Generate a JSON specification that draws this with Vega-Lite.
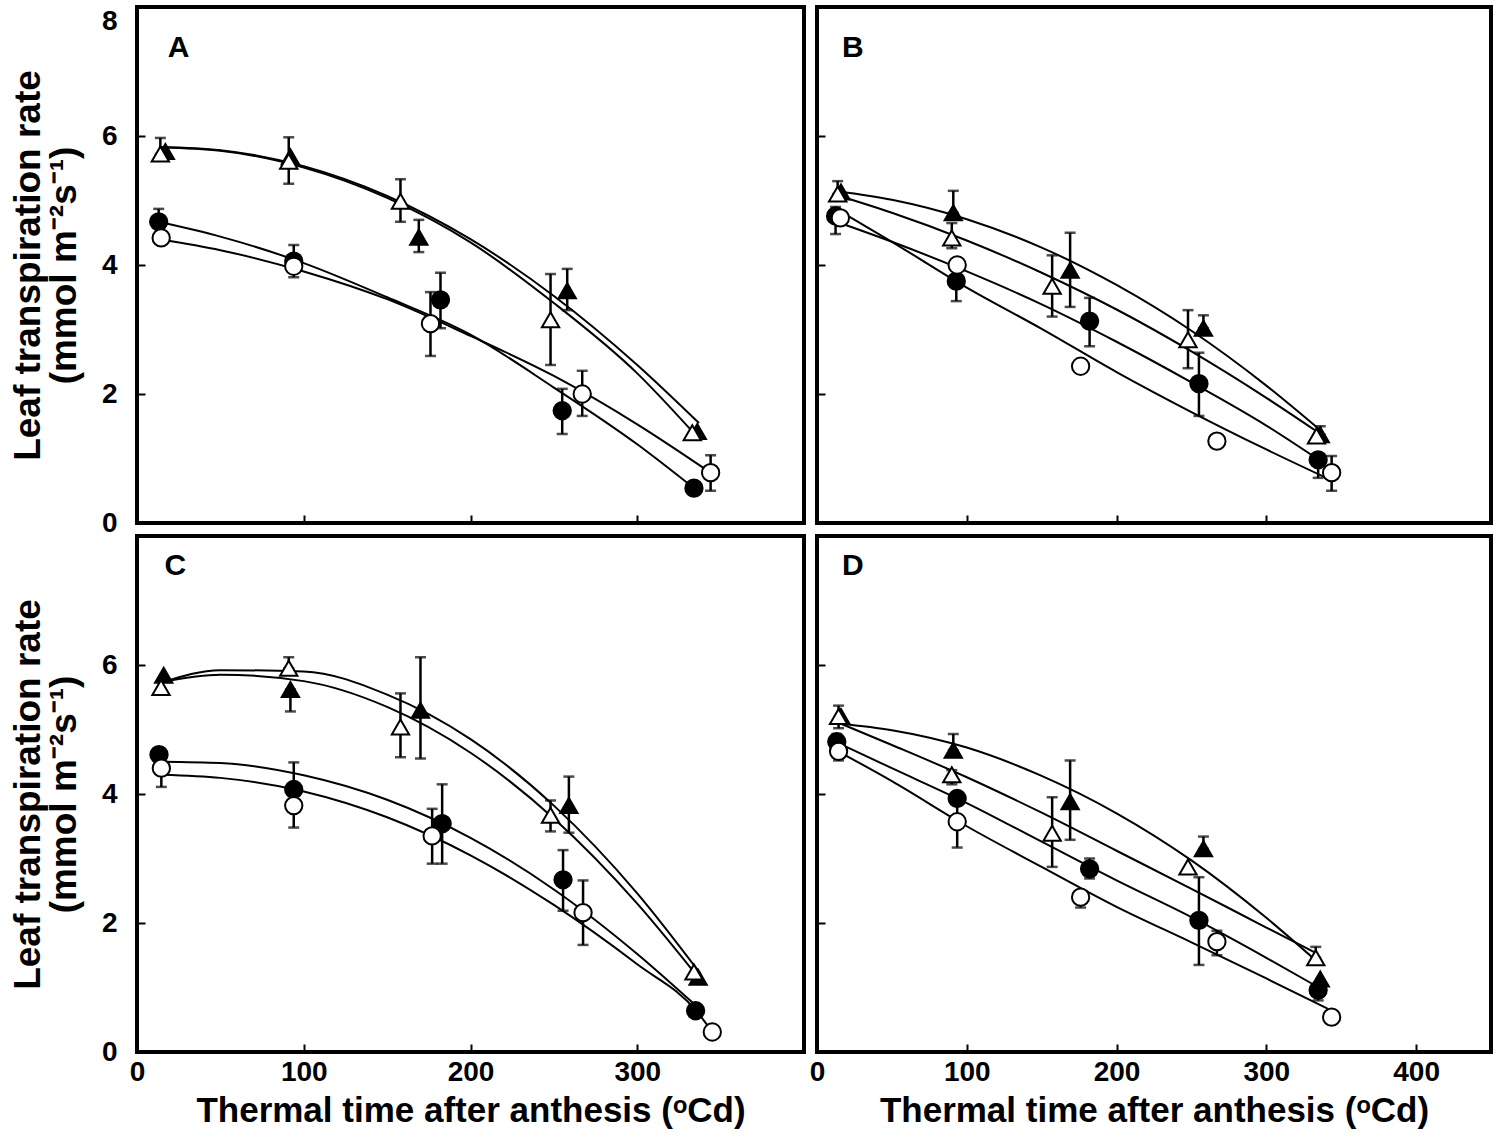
{
  "$schema": "https://vega.github.io/schema/vega-lite/v6.json",
  "background": "white",
  "padding": {"left": 7, "top": 4, "right": 0, "bottom": 0},
  "config": {
    "view": {"stroke": "black", "strokeWidth": 4},
    "axis": {
      "domain": false, "grid": false, "tickColor": "black", "tickWidth": 2, "tickSize": -8,
      "labelFont": "Liberation Sans", "labelFontWeight": "bold", "labelFontSize": 28, "labelColor": "black",
      "titleFont": "Liberation Sans", "titleFontWeight": "bold", "titleColor": "black",
      "labelFlush": false, "labelOverlap": false, "format": "d", "minExtent": 0, "labelPadding": 0, "titlePadding": 0
    },
    "axisX": {"titleFontSize": 35},
    "axisY": {"titleFontSize": 37, "titleLineHeight": 36,
      "labelBaseline": {"condition": {"test": "datum.value === 8", "value": "top"}, "value": "middle"}}
  },
  "datasets": {
    "pts": [
      {"p":"A","s":"fc","x":13,"y":4.67,"lo":4.67,"hi":4.87},
      {"p":"A","s":"fc","x":94,"y":4.06,"lo":4.06,"hi":4.31},
      {"p":"A","s":"fc","x":182,"y":3.46,"lo":3.02,"hi":3.88},
      {"p":"A","s":"fc","x":255,"y":1.74,"lo":1.38,"hi":2.08},
      {"p":"A","s":"fc","x":334,"y":0.54},
      {"p":"A","s":"ft","x":17,"y":5.76},
      {"p":"A","s":"ft","x":92,"y":5.68},
      {"p":"A","s":"ft","x":169,"y":4.43,"lo":4.2,"hi":4.7},
      {"p":"A","s":"ft","x":258,"y":3.6,"lo":3.3,"hi":3.94},
      {"p":"A","s":"ft","x":336,"y":1.42},
      {"p":"A","s":"oc","x":14.5,"y":4.42},
      {"p":"A","s":"oc","x":94,"y":3.98,"lo":3.81,"hi":3.98},
      {"p":"A","s":"oc","x":176,"y":3.09,"lo":2.59,"hi":3.58},
      {"p":"A","s":"oc","x":267,"y":2.0,"lo":1.66,"hi":2.36},
      {"p":"A","s":"oc","x":344,"y":0.78,"lo":0.5,"hi":1.05},
      {"p":"A","s":"ot","x":14,"y":5.72,"lo":5.72,"hi":5.97},
      {"p":"A","s":"ot","x":91,"y":5.61,"lo":5.26,"hi":5.98},
      {"p":"A","s":"ot","x":158,"y":4.99,"lo":4.67,"hi":5.33},
      {"p":"A","s":"ot","x":248,"y":3.15,"lo":2.45,"hi":3.86},
      {"p":"A","s":"ot","x":333,"y":1.4},

      {"p":"B","s":"fc","x":12.4,"y":4.76,"lo":4.48,"hi":4.9},
      {"p":"B","s":"fc","x":93,"y":3.75,"lo":3.44,"hi":3.75},
      {"p":"B","s":"fc","x":182,"y":3.13,"lo":2.74,"hi":3.49},
      {"p":"B","s":"fc","x":255,"y":2.16,"lo":1.66,"hi":2.64},
      {"p":"B","s":"fc","x":334.6,"y":0.98,"lo":0.7,"hi":0.98},
      {"p":"B","s":"ft","x":16,"y":5.13},
      {"p":"B","s":"ft","x":91,"y":4.81,"lo":4.81,"hi":5.15},
      {"p":"B","s":"ft","x":169,"y":3.92,"lo":3.35,"hi":4.5},
      {"p":"B","s":"ft","x":258,"y":3.02,"lo":3.02,"hi":3.22},
      {"p":"B","s":"ft","x":336,"y":1.37,"lo":1.37,"hi":1.5},
      {"p":"B","s":"oc","x":15.6,"y":4.73},
      {"p":"B","s":"oc","x":93.6,"y":4.0},
      {"p":"B","s":"oc","x":176,"y":2.43},
      {"p":"B","s":"oc","x":267,"y":1.27},
      {"p":"B","s":"oc","x":343.6,"y":0.78,"lo":0.5,"hi":1.04},
      {"p":"B","s":"ot","x":13.8,"y":5.1,"lo":5.1,"hi":5.3},
      {"p":"B","s":"ot","x":90,"y":4.42,"lo":4.26,"hi":4.65},
      {"p":"B","s":"ot","x":157,"y":3.67,"lo":3.2,"hi":4.15},
      {"p":"B","s":"ot","x":247.7,"y":2.84,"lo":2.4,"hi":3.3},
      {"p":"B","s":"ot","x":333.5,"y":1.35},

      {"p":"C","s":"fc","x":13.2,"y":4.61},
      {"p":"C","s":"fc","x":94,"y":4.07,"lo":4.07,"hi":4.49},
      {"p":"C","s":"fc","x":183,"y":3.54,"lo":2.92,"hi":4.15},
      {"p":"C","s":"fc","x":255.5,"y":2.67,"lo":2.19,"hi":3.13},
      {"p":"C","s":"fc","x":335,"y":0.64,"lo":0.55,"hi":0.74},
      {"p":"C","s":"ft","x":16,"y":5.84},
      {"p":"C","s":"ft","x":92,"y":5.62,"lo":5.28,"hi":5.62},
      {"p":"C","s":"ft","x":170,"y":5.3,"lo":4.55,"hi":6.12},
      {"p":"C","s":"ft","x":259,"y":3.82,"lo":3.4,"hi":4.27},
      {"p":"C","s":"ft","x":336.5,"y":1.16},
      {"p":"C","s":"oc","x":14.6,"y":4.4,"lo":4.11,"hi":4.4},
      {"p":"C","s":"oc","x":94,"y":3.82,"lo":3.48,"hi":3.82},
      {"p":"C","s":"oc","x":177,"y":3.35,"lo":2.92,"hi":3.77},
      {"p":"C","s":"oc","x":267.5,"y":2.16,"lo":1.66,"hi":2.66},
      {"p":"C","s":"oc","x":345,"y":0.31},
      {"p":"C","s":"ot","x":14.4,"y":5.65},
      {"p":"C","s":"ot","x":91,"y":5.95,"lo":5.95,"hi":6.12},
      {"p":"C","s":"ot","x":158,"y":5.04,"lo":4.57,"hi":5.56},
      {"p":"C","s":"ot","x":248,"y":3.67,"lo":3.42,"hi":3.9},
      {"p":"C","s":"ot","x":334,"y":1.24},

      {"p":"D","s":"fc","x":13.2,"y":4.81,"lo":4.81,"hi":4.93},
      {"p":"D","s":"fc","x":93.6,"y":3.93},
      {"p":"D","s":"fc","x":182,"y":2.84,"lo":2.69,"hi":3.0},
      {"p":"D","s":"fc","x":255,"y":2.04,"lo":1.35,"hi":2.71},
      {"p":"D","s":"fc","x":334.6,"y":0.96,"lo":0.8,"hi":0.96},
      {"p":"D","s":"ft","x":16,"y":5.2},
      {"p":"D","s":"ft","x":91,"y":4.68,"lo":4.68,"hi":4.93},
      {"p":"D","s":"ft","x":169,"y":3.88,"lo":3.29,"hi":4.52},
      {"p":"D","s":"ft","x":258,"y":3.15,"lo":3.15,"hi":3.34},
      {"p":"D","s":"ft","x":336,"y":1.13},
      {"p":"D","s":"oc","x":14.4,"y":4.66,"lo":4.52,"hi":4.66},
      {"p":"D","s":"oc","x":93.6,"y":3.57,"lo":3.17,"hi":3.9},
      {"p":"D","s":"oc","x":176,"y":2.4,"lo":2.24,"hi":2.4},
      {"p":"D","s":"oc","x":267,"y":1.71,"lo":1.5,"hi":1.88},
      {"p":"D","s":"oc","x":343.6,"y":0.54},
      {"p":"D","s":"ot","x":14.4,"y":5.2,"lo":5.02,"hi":5.37},
      {"p":"D","s":"ot","x":90,"y":4.3,"lo":4.15,"hi":4.37},
      {"p":"D","s":"ot","x":157,"y":3.39,"lo":2.87,"hi":3.95},
      {"p":"D","s":"ot","x":247.7,"y":2.87},
      {"p":"D","s":"ot","x":333,"y":1.46,"lo":1.46,"hi":1.63}
    ],
    "crv": [
      {"p":"A","c":1,"x":14,"y":5.83},{"p":"A","c":1,"x":50,"y":5.78},{"p":"A","c":1,"x":100,"y":5.53},{"p":"A","c":1,"x":150,"y":5.07},{"p":"A","c":1,"x":200,"y":4.40},{"p":"A","c":1,"x":250,"y":3.52},{"p":"A","c":1,"x":300,"y":2.45},{"p":"A","c":1,"x":337,"y":1.55},
      {"p":"A","c":2,"x":14,"y":5.82},{"p":"A","c":2,"x":50,"y":5.77},{"p":"A","c":2,"x":100,"y":5.51},{"p":"A","c":2,"x":150,"y":5.04},{"p":"A","c":2,"x":200,"y":4.35},{"p":"A","c":2,"x":250,"y":3.41},{"p":"A","c":2,"x":300,"y":2.32},{"p":"A","c":2,"x":333,"y":1.42},
      {"p":"A","c":3,"x":13,"y":4.67},{"p":"A","c":3,"x":50,"y":4.44},{"p":"A","c":3,"x":100,"y":4.03},{"p":"A","c":3,"x":150,"y":3.50},{"p":"A","c":3,"x":200,"y":2.92},{"p":"A","c":3,"x":250,"y":2.10},{"p":"A","c":3,"x":300,"y":1.22},{"p":"A","c":3,"x":334,"y":0.54},
      {"p":"A","c":4,"x":14,"y":4.40},{"p":"A","c":4,"x":50,"y":4.23},{"p":"A","c":4,"x":100,"y":3.90},{"p":"A","c":4,"x":150,"y":3.47},{"p":"A","c":4,"x":200,"y":2.90},{"p":"A","c":4,"x":250,"y":2.28},{"p":"A","c":4,"x":300,"y":1.53},{"p":"A","c":4,"x":344,"y":0.78},

      {"p":"B","c":1,"x":15,"y":5.14},{"p":"B","c":1,"x":50,"y":5.01},{"p":"B","c":1,"x":100,"y":4.71},{"p":"B","c":1,"x":150,"y":4.27},{"p":"B","c":1,"x":200,"y":3.69},{"p":"B","c":1,"x":250,"y":2.98},{"p":"B","c":1,"x":300,"y":2.13},{"p":"B","c":1,"x":336,"y":1.44},
      {"p":"B","c":2,"x":15,"y":5.07},{"p":"B","c":2,"x":50,"y":4.81},{"p":"B","c":2,"x":100,"y":4.38},{"p":"B","c":2,"x":150,"y":3.88},{"p":"B","c":2,"x":200,"y":3.31},{"p":"B","c":2,"x":250,"y":2.66},{"p":"B","c":2,"x":300,"y":1.94},{"p":"B","c":2,"x":333,"y":1.43},
      {"p":"B","c":3,"x":13,"y":4.67},{"p":"B","c":3,"x":50,"y":4.36},{"p":"B","c":3,"x":100,"y":3.90},{"p":"B","c":3,"x":150,"y":3.39},{"p":"B","c":3,"x":200,"y":2.81},{"p":"B","c":3,"x":250,"y":2.18},{"p":"B","c":3,"x":300,"y":1.51},{"p":"B","c":3,"x":335,"y":0.98},
      {"p":"B","c":4,"x":15,"y":4.84},{"p":"B","c":4,"x":50,"y":4.36},{"p":"B","c":4,"x":100,"y":3.65},{"p":"B","c":4,"x":150,"y":3.01},{"p":"B","c":4,"x":200,"y":2.34},{"p":"B","c":4,"x":250,"y":1.72},{"p":"B","c":4,"x":300,"y":1.14},{"p":"B","c":4,"x":340,"y":0.70},

      {"p":"C","c":1,"x":15,"y":5.73},{"p":"C","c":1,"x":50,"y":5.92},{"p":"C","c":1,"x":100,"y":5.90},{"p":"C","c":1,"x":150,"y":5.54},{"p":"C","c":1,"x":200,"y":4.85},{"p":"C","c":1,"x":250,"y":3.82},{"p":"C","c":1,"x":300,"y":2.46},{"p":"C","c":1,"x":338,"y":1.21},
      {"p":"C","c":2,"x":15,"y":5.74},{"p":"C","c":2,"x":50,"y":5.85},{"p":"C","c":2,"x":100,"y":5.75},{"p":"C","c":2,"x":150,"y":5.35},{"p":"C","c":2,"x":200,"y":4.64},{"p":"C","c":2,"x":250,"y":3.62},{"p":"C","c":2,"x":300,"y":2.30},{"p":"C","c":2,"x":334,"y":1.24},
      {"p":"C","c":3,"x":15,"y":4.50},{"p":"C","c":3,"x":50,"y":4.48},{"p":"C","c":3,"x":100,"y":4.29},{"p":"C","c":3,"x":150,"y":3.91},{"p":"C","c":3,"x":200,"y":3.32},{"p":"C","c":3,"x":250,"y":2.52},{"p":"C","c":3,"x":300,"y":1.52},{"p":"C","c":3,"x":336,"y":0.70},
      {"p":"C","c":4,"x":15,"y":4.30},{"p":"C","c":4,"x":50,"y":4.25},{"p":"C","c":4,"x":100,"y":4.04},{"p":"C","c":4,"x":150,"y":3.64},{"p":"C","c":4,"x":200,"y":3.05},{"p":"C","c":4,"x":250,"y":2.28},{"p":"C","c":4,"x":300,"y":1.36},{"p":"C","c":4,"x":336,"y":0.62},{"p":"C","c":4,"x":345,"y":0.31},

      {"p":"D","c":1,"x":15,"y":5.09},{"p":"D","c":1,"x":50,"y":4.99},{"p":"D","c":1,"x":100,"y":4.72},{"p":"D","c":1,"x":150,"y":4.28},{"p":"D","c":1,"x":200,"y":3.70},{"p":"D","c":1,"x":250,"y":2.97},{"p":"D","c":1,"x":300,"y":2.08},{"p":"D","c":1,"x":334,"y":1.40},
      {"p":"D","c":2,"x":15,"y":5.10},{"p":"D","c":2,"x":50,"y":4.76},{"p":"D","c":2,"x":100,"y":4.26},{"p":"D","c":2,"x":150,"y":3.71},{"p":"D","c":2,"x":200,"y":3.12},{"p":"D","c":2,"x":250,"y":2.53},{"p":"D","c":2,"x":300,"y":1.93},{"p":"D","c":2,"x":332,"y":1.55},
      {"p":"D","c":3,"x":15,"y":4.78},{"p":"D","c":3,"x":50,"y":4.40},{"p":"D","c":3,"x":100,"y":3.86},{"p":"D","c":3,"x":150,"y":3.26},{"p":"D","c":3,"x":200,"y":2.66},{"p":"D","c":3,"x":250,"y":2.09},{"p":"D","c":3,"x":300,"y":1.46},{"p":"D","c":3,"x":335,"y":1.00},
      {"p":"D","c":4,"x":15,"y":4.65},{"p":"D","c":4,"x":50,"y":4.20},{"p":"D","c":4,"x":100,"y":3.50},{"p":"D","c":4,"x":150,"y":2.87},{"p":"D","c":4,"x":200,"y":2.25},{"p":"D","c":4,"x":250,"y":1.70},{"p":"D","c":4,"x":300,"y":1.14},{"p":"D","c":4,"x":341,"y":0.67}
    ],
    "lab": [
      {"p":"A","t":"A","x":25,"y":7.36},
      {"p":"B","t":"B","x":24,"y":7.36},
      {"p":"C","t":"C","x":23,"y":7.53},
      {"p":"D","t":"D","x":24,"y":7.53}
    ]
  },
  "columns": 2,
  "spacing": 13,
  "bounds": "flush",
  "concat": [
    {
      "width": 667, "height": 516,
      "layer": [
        {"data":{"name":"crv"},"transform":[{"filter":"datum.p==='A'"}],
         "mark":{"type":"line","color":"black","strokeWidth":2,"interpolate":"monotone"},
         "encoding":{
           "x":{"field":"x","type":"quantitative","scale":{"domain":[0,400]},"axis":{"values":[100,200,300],"labels":false,"title":null}},
           "y":{"field":"y","type":"quantitative","scale":{"domain":[0,8]},"axis":{"values":[0,2,4,6,8],"labelPadding":28,"titlePadding":18,"title":["Leaf transpiration rate","(mmol m⁻²s⁻¹)"]}},
           "detail":{"field":"c"}}},
        {"data":{"name":"pts"},"transform":[{"filter":"datum.p==='A' && isValid(datum.hi)"}],
         "mark":{"type":"rule","color":"black","strokeWidth":2.5},
         "encoding":{"x":{"field":"x","type":"quantitative"},"y":{"field":"lo","type":"quantitative"},"y2":{"field":"hi"}}},
        {"data":{"name":"pts"},"transform":[{"filter":"datum.p==='A' && isValid(datum.hi)"},{"fold":["lo","hi"],"as":["k","v"]}],
         "mark":{"type":"tick","orient":"horizontal","color":"black","size":11,"thickness":2.5},
         "encoding":{"x":{"field":"x","type":"quantitative"},"y":{"field":"v","type":"quantitative"}}},
        {"data":{"name":"pts"},"transform":[{"filter":"datum.p==='A'"}],
         "mark":{"type":"point","filled":true,"stroke":"black","strokeWidth":2,"size":300,"opacity":1},
         "encoding":{"x":{"field":"x","type":"quantitative"},"y":{"field":"y","type":"quantitative"},
           "fill":{"field":"s","type":"nominal","scale":{"domain":["oc","fc","ot","ft"],"range":["white","black","white","black"]},"legend":null},
           "shape":{"field":"s","type":"nominal","scale":{"domain":["oc","fc","ot","ft"],"range":["circle","circle","triangle-up","triangle-up"]},"legend":null}}},
        {"data":{"name":"lab"},"transform":[{"filter":"datum.p==='A'"}],
         "mark":{"type":"text","font":"Liberation Sans","fontWeight":"bold","fontSize":30,"color":"black"},
         "encoding":{"x":{"field":"x","type":"quantitative"},"y":{"field":"y","type":"quantitative"},"text":{"field":"t"}}}
      ]
    },
    {
      "width": 674, "height": 516,
      "layer": [
        {"data":{"name":"crv"},"transform":[{"filter":"datum.p==='B'"}],
         "mark":{"type":"line","color":"black","strokeWidth":2,"interpolate":"monotone"},
         "encoding":{
           "x":{"field":"x","type":"quantitative","scale":{"domain":[0,404]},"axis":{"values":[100,200,300],"labels":false,"title":null}},
           "y":{"field":"y","type":"quantitative","scale":{"domain":[0,8]},"axis":{"values":[2,4,6],"labels":false,"title":null}},
           "detail":{"field":"c"}}},
        {"data":{"name":"pts"},"transform":[{"filter":"datum.p==='B' && isValid(datum.hi)"}],
         "mark":{"type":"rule","color":"black","strokeWidth":2.5},
         "encoding":{"x":{"field":"x","type":"quantitative"},"y":{"field":"lo","type":"quantitative"},"y2":{"field":"hi"}}},
        {"data":{"name":"pts"},"transform":[{"filter":"datum.p==='B' && isValid(datum.hi)"},{"fold":["lo","hi"],"as":["k","v"]}],
         "mark":{"type":"tick","orient":"horizontal","color":"black","size":11,"thickness":2.5},
         "encoding":{"x":{"field":"x","type":"quantitative"},"y":{"field":"v","type":"quantitative"}}},
        {"data":{"name":"pts"},"transform":[{"filter":"datum.p==='B'"}],
         "mark":{"type":"point","filled":true,"stroke":"black","strokeWidth":2,"size":300,"opacity":1},
         "encoding":{"x":{"field":"x","type":"quantitative"},"y":{"field":"y","type":"quantitative"},
           "fill":{"field":"s","type":"nominal","scale":{"domain":["oc","fc","ot","ft"],"range":["white","black","white","black"]},"legend":null},
           "shape":{"field":"s","type":"nominal","scale":{"domain":["oc","fc","ot","ft"],"range":["circle","circle","triangle-up","triangle-up"]},"legend":null}}},
        {"data":{"name":"lab"},"transform":[{"filter":"datum.p==='B'"}],
         "mark":{"type":"text","font":"Liberation Sans","fontWeight":"bold","fontSize":30,"color":"black"},
         "encoding":{"x":{"field":"x","type":"quantitative"},"y":{"field":"y","type":"quantitative"},"text":{"field":"t"}}}
      ]
    },
    {
      "width": 667, "height": 516,
      "layer": [
        {"data":{"name":"crv"},"transform":[{"filter":"datum.p==='C'"}],
         "mark":{"type":"line","color":"black","strokeWidth":2,"interpolate":"monotone"},
         "encoding":{
           "x":{"field":"x","type":"quantitative","scale":{"domain":[0,400]},"axis":{"values":[0,100,200,300],"labelPadding":14,"titlePadding":7,"title":"Thermal time after anthesis (ᵒCd)"}},
           "y":{"field":"y","type":"quantitative","scale":{"domain":[0,8]},"axis":{"values":[0,2,4,6],"labelPadding":28,"titlePadding":18,"title":["Leaf transpiration rate","(mmol m⁻²s⁻¹)"]}},
           "detail":{"field":"c"}}},
        {"data":{"name":"pts"},"transform":[{"filter":"datum.p==='C' && isValid(datum.hi)"}],
         "mark":{"type":"rule","color":"black","strokeWidth":2.5},
         "encoding":{"x":{"field":"x","type":"quantitative"},"y":{"field":"lo","type":"quantitative"},"y2":{"field":"hi"}}},
        {"data":{"name":"pts"},"transform":[{"filter":"datum.p==='C' && isValid(datum.hi)"},{"fold":["lo","hi"],"as":["k","v"]}],
         "mark":{"type":"tick","orient":"horizontal","color":"black","size":11,"thickness":2.5},
         "encoding":{"x":{"field":"x","type":"quantitative"},"y":{"field":"v","type":"quantitative"}}},
        {"data":{"name":"pts"},"transform":[{"filter":"datum.p==='C'"}],
         "mark":{"type":"point","filled":true,"stroke":"black","strokeWidth":2,"size":300,"opacity":1},
         "encoding":{"x":{"field":"x","type":"quantitative"},"y":{"field":"y","type":"quantitative"},
           "fill":{"field":"s","type":"nominal","scale":{"domain":["oc","fc","ot","ft"],"range":["white","black","white","black"]},"legend":null},
           "shape":{"field":"s","type":"nominal","scale":{"domain":["oc","fc","ot","ft"],"range":["circle","circle","triangle-up","triangle-up"]},"legend":null}}},
        {"data":{"name":"lab"},"transform":[{"filter":"datum.p==='C'"}],
         "mark":{"type":"text","font":"Liberation Sans","fontWeight":"bold","fontSize":30,"color":"black"},
         "encoding":{"x":{"field":"x","type":"quantitative"},"y":{"field":"y","type":"quantitative"},"text":{"field":"t"}}}
      ]
    },
    {
      "width": 674, "height": 516,
      "layer": [
        {"data":{"name":"crv"},"transform":[{"filter":"datum.p==='D'"}],
         "mark":{"type":"line","color":"black","strokeWidth":2,"interpolate":"monotone"},
         "encoding":{
           "x":{"field":"x","type":"quantitative","scale":{"domain":[0,404]},"axis":{"values":[0,100,200,300,400],"labelPadding":14,"titlePadding":7,"title":"Thermal time after anthesis (ᵒCd)"}},
           "y":{"field":"y","type":"quantitative","scale":{"domain":[0,8]},"axis":{"values":[2,4,6],"labels":false,"title":null}},
           "detail":{"field":"c"}}},
        {"data":{"name":"pts"},"transform":[{"filter":"datum.p==='D' && isValid(datum.hi)"}],
         "mark":{"type":"rule","color":"black","strokeWidth":2.5},
         "encoding":{"x":{"field":"x","type":"quantitative"},"y":{"field":"lo","type":"quantitative"},"y2":{"field":"hi"}}},
        {"data":{"name":"pts"},"transform":[{"filter":"datum.p==='D' && isValid(datum.hi)"},{"fold":["lo","hi"],"as":["k","v"]}],
         "mark":{"type":"tick","orient":"horizontal","color":"black","size":11,"thickness":2.5},
         "encoding":{"x":{"field":"x","type":"quantitative"},"y":{"field":"v","type":"quantitative"}}},
        {"data":{"name":"pts"},"transform":[{"filter":"datum.p==='D'"}],
         "mark":{"type":"point","filled":true,"stroke":"black","strokeWidth":2,"size":300,"opacity":1},
         "encoding":{"x":{"field":"x","type":"quantitative"},"y":{"field":"y","type":"quantitative"},
           "fill":{"field":"s","type":"nominal","scale":{"domain":["oc","fc","ot","ft"],"range":["white","black","white","black"]},"legend":null},
           "shape":{"field":"s","type":"nominal","scale":{"domain":["oc","fc","ot","ft"],"range":["circle","circle","triangle-up","triangle-up"]},"legend":null}}},
        {"data":{"name":"lab"},"transform":[{"filter":"datum.p==='D'"}],
         "mark":{"type":"text","font":"Liberation Sans","fontWeight":"bold","fontSize":30,"color":"black"},
         "encoding":{"x":{"field":"x","type":"quantitative"},"y":{"field":"y","type":"quantitative"},"text":{"field":"t"}}}
      ]
    }
  ]
}
